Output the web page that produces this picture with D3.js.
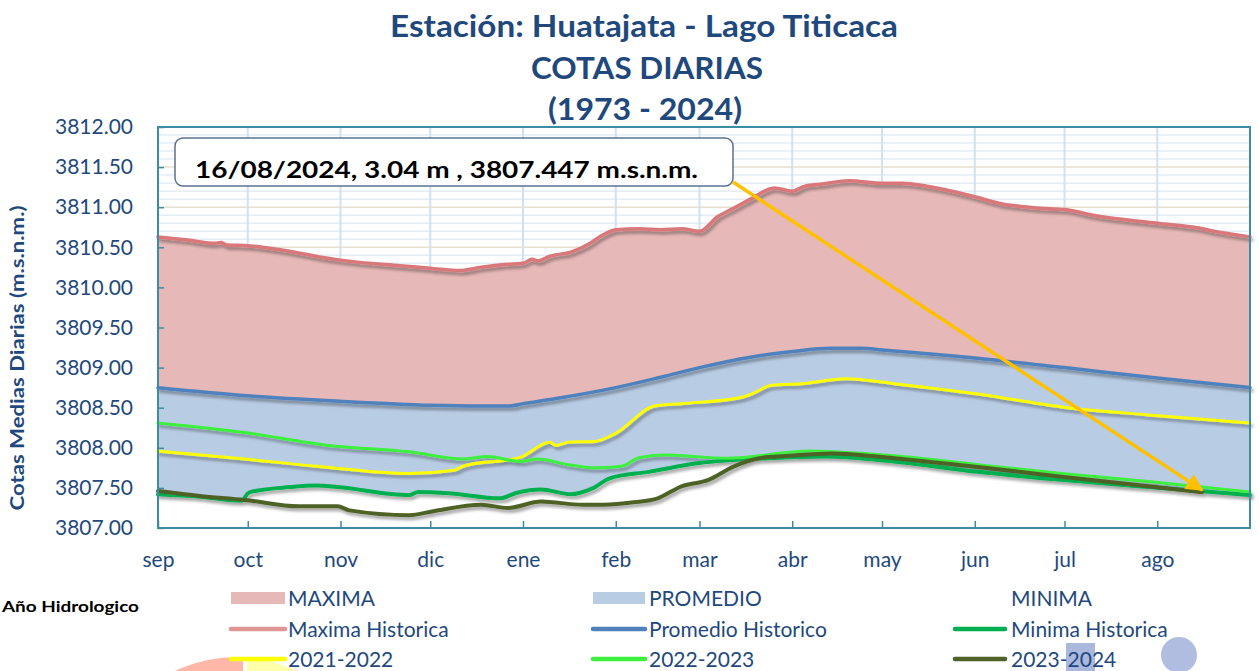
<!DOCTYPE html>
<html><head><meta charset="utf-8">
<script src="https://cdn.jsdelivr.net/npm/d3@7"></script>
<style>
html,body{margin:0;padding:0;background:#fff;}
svg{display:block;font-family:Lato,"Open Sans",sans-serif;}
</style></head>
<body>
<svg id="chart" width="1259" height="671"></svg>
<script>
// ---------------- DATA ----------------
const titleLines = ["Estación: Huatajata - Lago Titicaca", "COTAS DIARIAS", "(1973 - 2024)"];
const monthLabels = ["sep","oct","nov","dic","ene","feb","mar","abr","may","jun","jul","ago"];
const yTicks = [3807.0,3807.5,3808.0,3808.5,3809.0,3809.5,3810.0,3810.5,3811.0,3811.5,3812.0];
const annotationText = "16/08/2024, 3.04 m , 3807.447 m.s.n.m.";
const annotationPoint = ["2023-08-16", 3807.447];

const maximaHistorica = [
["2022-09-01",3810.63],["2022-09-11",3810.59],["2022-09-20",3810.55],["2022-09-22",3810.56],["2022-09-24",3810.53],
["2022-10-01",3810.52],["2022-10-18",3810.43],["2022-10-25",3810.38],["2022-11-01",3810.34],["2022-11-21",3810.27],
["2022-12-01",3810.24],["2022-12-11",3810.21],["2022-12-16",3810.24],["2022-12-24",3810.28],["2023-01-01",3810.30],
["2023-01-04",3810.35],["2023-01-06",3810.33],["2023-01-10",3810.39],["2023-01-17",3810.44],["2023-01-23",3810.54],
["2023-01-27",3810.64],["2023-02-01",3810.72],["2023-02-09",3810.73],["2023-02-16",3810.72],["2023-02-23",3810.73],
["2023-03-01",3810.70],["2023-03-07",3810.88],["2023-03-13",3811.00],["2023-03-18",3811.10],["2023-03-26",3811.24],
["2023-04-01",3811.20],["2023-04-05",3811.26],["2023-04-11",3811.29],["2023-04-20",3811.33],["2023-05-01",3811.30],
["2023-05-08",3811.30],["2023-05-16",3811.26],["2023-06-01",3811.13],["2023-06-09",3811.05],["2023-06-22",3810.99],
["2023-07-01",3810.97],["2023-07-12",3810.89],["2023-08-01",3810.80],["2023-08-15",3810.74],["2023-08-20",3810.70],
["2023-09-01",3810.63]];

const promedioHistorico = [
["2022-09-01",3808.75],["2022-10-01",3808.65],["2022-11-01",3808.58],["2022-12-01",3808.53],["2022-12-17",3808.52],
["2022-12-27",3808.52],["2023-01-01",3808.55],["2023-01-13",3808.62],["2023-02-01",3808.75],["2023-02-16",3808.88],
["2023-03-01",3809.00],["2023-03-18",3809.13],["2023-04-01",3809.20],["2023-04-14",3809.24],["2023-04-24",3809.24],
["2023-05-01",3809.22],["2023-06-01",3809.12],["2023-07-01",3809.00],["2023-08-01",3808.87],["2023-09-01",3808.75]];

const minimaHistorica = [
["2022-09-01",3807.42],["2022-09-15",3807.39],["2022-09-29",3807.34],["2022-10-01",3807.43],["2022-10-02",3807.45],
["2022-10-15",3807.51],["2022-10-24",3807.53],["2022-10-31",3807.51],["2022-11-24",3807.41],["2022-11-27",3807.45],
["2022-12-08",3807.43],["2022-12-24",3807.37],["2022-12-30",3807.44],["2023-01-07",3807.48],["2023-01-17",3807.42],
["2023-01-24",3807.49],["2023-01-30",3807.62],["2023-02-12",3807.70],["2023-03-01",3807.81],["2023-03-24",3807.87],
["2023-04-12",3807.89],["2023-05-05",3807.83],["2023-06-02",3807.70],["2023-06-30",3807.60],["2023-07-29",3807.51],
["2023-09-01",3807.41]];

const serie2021_2022 = [
["2022-09-01",3807.96],["2022-09-30",3807.86],["2022-10-24",3807.77],["2022-11-24",3807.68],["2022-12-09",3807.72],
["2022-12-12",3807.77],["2022-12-31",3807.88],["2023-01-10",3808.07],["2023-01-12",3808.03],["2023-01-16",3808.07],
["2023-01-25",3808.08],["2023-02-01",3808.18],["2023-02-14",3808.52],["2023-02-23",3808.55],["2023-03-14",3808.62],
["2023-03-19",3808.68],["2023-03-25",3808.78],["2023-04-04",3808.80],["2023-04-19",3808.86],["2023-05-05",3808.80],
["2023-06-02",3808.67],["2023-06-30",3808.51],["2023-07-29",3808.41],["2023-09-01",3808.31]];

const serie2022_2023 = [
["2022-09-01",3808.31],["2022-09-30",3808.19],["2022-10-28",3808.03],["2022-11-24",3807.95],["2022-12-12",3807.86],
["2022-12-20",3807.89],["2022-12-31",3807.83],["2023-01-06",3807.86],["2023-01-16",3807.79],["2023-01-25",3807.75],
["2023-02-03",3807.77],["2023-02-09",3807.88],["2023-02-18",3807.91],["2023-03-10",3807.87],["2023-04-07",3807.96],
["2023-04-15",3807.95],["2023-05-05",3807.90],["2023-06-02",3807.79],["2023-06-30",3807.68],["2023-07-29",3807.58],
["2023-09-01",3807.45]];

const serie2023_2024 = [
["2022-09-01",3807.46],["2022-09-15",3807.40],["2022-09-30",3807.35],["2022-10-18",3807.27],["2022-10-31",3807.27],
["2022-11-04",3807.22],["2022-11-24",3807.16],["2022-12-02",3807.21],["2022-12-18",3807.29],["2022-12-27",3807.25],
["2023-01-07",3807.33],["2023-01-21",3807.29],["2023-01-28",3807.29],["2023-02-07",3807.32],["2023-02-15",3807.37],
["2023-02-23",3807.52],["2023-03-04",3807.60],["2023-03-12",3807.76],["2023-03-21",3807.87],["2023-03-31",3807.90],
["2023-04-14",3807.93],["2023-05-05",3807.87],["2023-06-02",3807.76],["2023-06-30",3807.64],["2023-07-29",3807.52],
["2023-08-16",3807.447]];

// ---------------- SETUP ----------------
const svg = d3.select("#chart");
const L = 158, R = 1250, T = 127, B = 528;
const parse = d3.timeParse("%Y-%m-%d");
const x = d3.scaleTime().domain([parse("2022-09-01"), parse("2023-09-01")]).range([L, R]);
const y = d3.scaleLinear().domain([3807, 3812]).range([B, T]);
const monthStarts = d3.timeMonth.range(parse("2022-09-01"), parse("2023-09-01"));

const textColor = "#1f497d";
const axisColor = "#3d8ca2";

const defs = svg.append("defs");
const f = defs.append("filter").attr("id","shadow").attr("x","-5%").attr("y","-20%").attr("width","110%").attr("height","150%");
f.append("feDropShadow").attr("dx",2).attr("dy",3).attr("stdDeviation",1.6).attr("flood-color","#000").attr("flood-opacity",0.35);
defs.append("marker").attr("id","arrowhead").attr("viewBox","0 0 10 10").attr("refX",9).attr("refY",5)
  .attr("markerWidth",6).attr("markerHeight",5).attr("orient","auto").attr("markerUnits","strokeWidth")
  .append("path").attr("d","M0,0 L10,5 L0,10 z").attr("fill","#ffc000");
defs.append("clipPath").attr("id","plotclip").append("rect").attr("x",L).attr("y",T).attr("width",R-L).attr("height",B-T);

// ---------------- DECORATIONS (bottom) ----------------
const deco = svg.append("g");
defs.append("clipPath").attr("id","cl1").append("rect").attr("x",0).attr("y",600).attr("width",243).attr("height",80);
defs.append("clipPath").attr("id","cl2").append("rect").attr("x",247).attr("y",600).attr("width",200).attr("height",80);
deco.append("circle").attr("cx",236).attr("cy",797).attr("r",140).attr("fill","#ffb7a8").attr("clip-path","url(#cl1)");
deco.append("circle").attr("cx",236).attr("cy",797).attr("r",140).attr("fill","#ffffab").attr("clip-path","url(#cl2)");
deco.append("rect").attr("x",1066).attr("y",643).attr("width",29).attr("height",28).attr("fill","#aab8de");
deco.append("circle").attr("cx",1179).attr("cy",655).attr("r",18).attr("fill","#b0bde0");

// ---------------- GRID ----------------
const grid = svg.append("g");
const minor = d3.range(0, 51).map(i => +(3807 + i * 0.1).toFixed(1));
grid.selectAll("line.h").data(minor).join("line")
  .attr("x1", L).attr("x2", R).attr("y1", d => y(d)).attr("y2", d => y(d))
  .attr("stroke", d => (Math.abs(d*2 - Math.round(d*2)) < 1e-6) ? "#e6dfcd" : "#e4ecf6")
  .attr("stroke-width", 1.5);
grid.selectAll("line.v").data(monthStarts.slice(1)).join("line")
  .attr("x1", d => x(d)).attr("x2", d => x(d)).attr("y1", T).attr("y2", B)
  .attr("stroke", "#d3e0f1").attr("stroke-width", 2);

// ---------------- AREAS ----------------
const pts = arr => arr.map(d => [parse(d[0]), d[1]]);
const curve = d3.curveMonotoneX;
const area = d3.area().x(d => x(d[0])).y0(B).y1(d => y(d[1])).curve(curve);
const line = d3.line().x(d => x(d[0])).y(d => y(d[1])).curve(curve);
const plot = svg.append("g").attr("clip-path","url(#plotclip)");
plot.append("path").datum(pts(maximaHistorica)).attr("d", area).attr("fill", "#e6b8b7");
plot.append("path").datum(pts(promedioHistorico)).attr("d", area).attr("fill", "#b8cce4");
plot.append("path").datum(pts(minimaHistorica)).attr("d", area).attr("fill", "#ffffff");

// ---------------- LINES ----------------
const series = [
  {data: maximaHistorica, color: "#d9777a", w: 3.5},
  {data: promedioHistorico, color: "#4f81bd", w: 3.5},
  {data: minimaHistorica, color: "#00b050", w: 4},
  {data: serie2021_2022, color: "#ffff00", w: 3},
  {data: serie2022_2023, color: "#3cf03c", w: 3},
  {data: serie2023_2024, color: "#4f6228", w: 4}
];
const linesG = svg.append("g").attr("filter","url(#shadow)");
series.forEach(s => {
  linesG.append("path").datum(pts(s.data)).attr("d", line)
    .attr("fill","none").attr("stroke", s.color).attr("stroke-width", s.w)
    .attr("stroke-linejoin","round").attr("stroke-linecap","round");
});

// ---------------- AXES ----------------
const yAxis = d3.axisLeft(y).tickValues(yTicks).tickFormat(d3.format(".2f")).tickSize(-6).tickPadding(25);
const gy = svg.append("g").attr("transform", `translate(${L},0)`).call(yAxis);
const xAxis = d3.axisBottom(x).tickValues(monthStarts).tickFormat((d, i) => monthLabels[i]).tickSize(-7).tickPadding(24);
const gx = svg.append("g").attr("transform", `translate(0,${B})`).call(xAxis);
[gy, gx].forEach(g => {
  g.select(".domain").remove();
  g.selectAll(".tick line").attr("stroke", axisColor).attr("stroke-width", 1.5);
  g.selectAll(".tick text").attr("fill", textColor).attr("font-size", 21).attr("font-family","Lato");
});
svg.append("rect").attr("x", L).attr("y", T).attr("width", R - L).attr("height", B - T)
  .attr("fill","none").attr("stroke", axisColor).attr("stroke-width", 2);

// Y axis title
svg.append("text").attr("transform", "translate(24,358) rotate(-90)")
  .attr("text-anchor","middle").attr("font-weight","bold").attr("font-size",19)
  .attr("fill", textColor).attr("textLength",305).attr("lengthAdjust","spacingAndGlyphs")
  .text("Cotas Medias Diarias (m.s.n.m.)");

// ---------------- TITLE ----------------
const titleY = [37, 79, 120], titleLen = [508, 232, 194], titleX = [644, 647, 645];
titleLines.forEach((t, i) => {
  svg.append("text").attr("x", titleX[i]).attr("y", titleY[i]).attr("text-anchor","middle")
    .attr("font-weight","bold").attr("font-size",31).attr("fill", textColor)
    .attr("textLength", titleLen[i]).attr("lengthAdjust","spacingAndGlyphs").text(t);
});

// ---------------- ANNOTATION ----------------
const tip = [x(parse(annotationPoint[0])), y(annotationPoint[1]) - 2];
svg.append("line").attr("x1", 733).attr("y1", 182).attr("x2", tip[0]).attr("y2", tip[1])
  .attr("stroke","#ffc000").attr("stroke-width",3.5).attr("marker-end","url(#arrowhead)");
svg.append("rect").attr("x",175).attr("y",138).attr("width",558).attr("height",48).attr("rx",8)
  .attr("fill","#fff").attr("stroke","#5b7190").attr("stroke-width",1.5);
svg.append("text").attr("x",195).attr("y",178).attr("font-weight","bold").attr("font-size",23.5)
  .attr("fill","#000").attr("textLength",503).attr("lengthAdjust","spacingAndGlyphs").text(annotationText);

// ---------------- LEGEND ----------------
const legendItems = [
  {label:"MAXIMA", type:"rect", color:"#e6b8b7", col:0, row:0},
  {label:"Maxima Historica", type:"line", color:"#e09595", col:0, row:1},
  {label:"2021-2022", type:"line", color:"#ffff00", col:0, row:2},
  {label:"PROMEDIO", type:"rect", color:"#b8cce4", col:1, row:0},
  {label:"Promedio Historico", type:"line", color:"#4f81bd", col:1, row:1},
  {label:"2022-2023", type:"line", color:"#3cf03c", col:1, row:2},
  {label:"MINIMA", type:"rect", color:"#ffffff", col:2, row:0},
  {label:"Minima Historica", type:"line", color:"#00b050", col:2, row:1},
  {label:"2023-2024", type:"line", color:"#4f6228", col:2, row:2}
];
const colX0 = [231, 593, 955], colX1 = [285, 645, 1005], colT = [288, 649, 1011], rowY = [598, 629, 659];
const lg = svg.append("g");
legendItems.forEach(it => {
  const x0 = colX0[it.col], x1 = colX1[it.col], cy = rowY[it.row];
  if (it.type === "rect") {
    lg.append("rect").attr("x", x0).attr("y", cy - 6).attr("width", x1 - x0).attr("height", 12).attr("fill", it.color);
  } else {
    lg.append("line").attr("x1", x0).attr("x2", x1).attr("y1", cy).attr("y2", cy)
      .attr("stroke", it.color).attr("stroke-width", 4.5).attr("stroke-linecap","round");
  }
  lg.append("text").attr("x", colT[it.col]).attr("y", cy).attr("dy","0.36em")
    .attr("font-size",21).attr("fill", textColor).text(it.label);
});
svg.append("text").attr("x",2).attr("y",612).attr("font-weight","bold").attr("font-size",15.5)
  .attr("fill","#000").attr("textLength",137).attr("lengthAdjust","spacingAndGlyphs").text("Año Hidrologico");
</script>
</body></html>
